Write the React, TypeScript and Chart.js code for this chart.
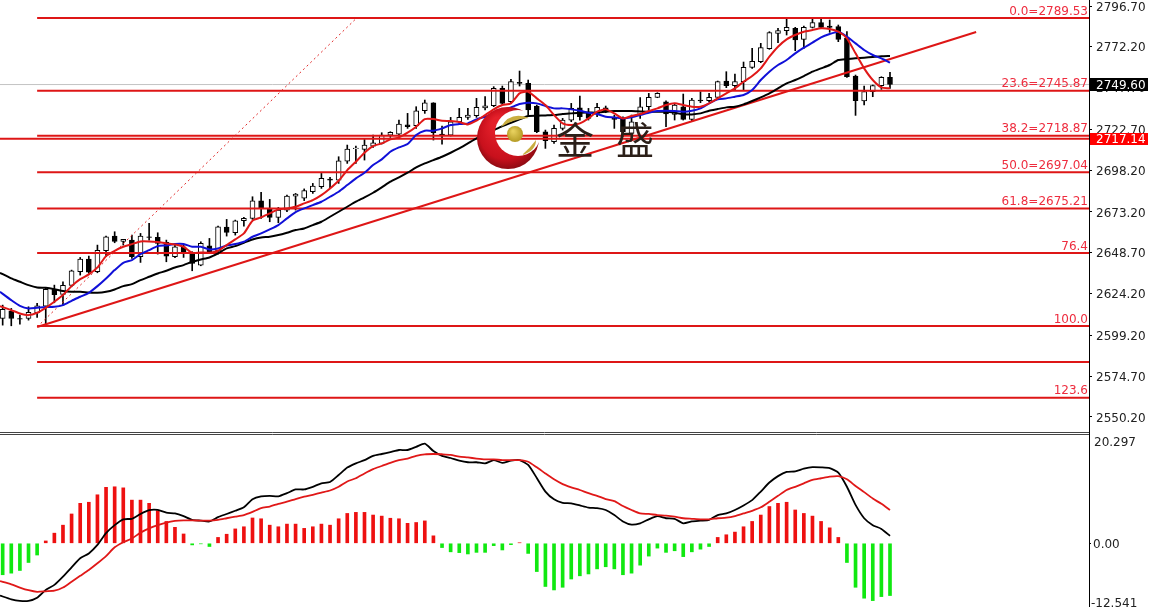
import React, { useEffect, useRef } from "react";
import { Chart, registerables } from "chart.js";

Chart.register(...registerables);

const opens = [
  2609.3, 2613.7, 2609.3, 2609.3, 2612.7, 2616.7, 2626.7, 2623.7, 2629.1, 2637.3,
  2644.9, 2637.3, 2649.9, 2658.7, 2655.5, 2656.3, 2646.3, 2658.3, 2657.9, 2654.9,
  2646.3, 2652.3, 2648.3, 2641.3, 2652.9, 2649.9, 2664.1, 2660.7, 2667.9, 2669.3,
  2679.9, 2674.9, 2669.9, 2674.3, 2682.7, 2681.5, 2685.3, 2688.3, 2692.9, 2692.3,
  2703.7, 2711.1, 2710.7, 2712.7, 2714.3, 2719.3, 2719.9, 2725.5, 2724.9, 2733.9,
  2738.7, 2719.9, 2719.3, 2727.3, 2729.9, 2730.9, 2735.5, 2736.9, 2747.3, 2739.3,
  2750.9, 2750.3, 2736.7, 2721.3, 2715.3, 2723.3, 2728.3, 2735.7, 2732.3, 2732.3,
  2735.7, 2729.5, 2728.7, 2720.3, 2731.3, 2736.3, 2741.9, 2739.3, 2731.7, 2736.3,
  2728.7, 2740.3, 2739.9, 2741.9, 2751.7, 2748.9, 2751.3, 2759.9, 2763.3, 2771.1,
  2780.3, 2781.9, 2783.3, 2776.7, 2783.9, 2786.7, 2784.7, 2784.3, 2777.3, 2754.7,
  2739.7, 2745.3, 2748.9, 2753.9,
];
const closes = [
  2614.7, 2609.3, 2608.9, 2612.9, 2616.9, 2626.7, 2623.5, 2629.1, 2637.9, 2644.9,
  2637.1, 2650.1, 2658.3, 2655.5, 2656.7, 2646.3, 2658.7, 2657.9, 2654.3, 2646.7,
  2652.3, 2648.7, 2642.3, 2654.3, 2649.3, 2664.3, 2660.9, 2667.9, 2669.3, 2679.9,
  2675.3, 2669.9, 2674.3, 2682.7, 2683.9, 2686, 2688.7, 2693.3, 2692.3, 2703.9,
  2710.9, 2711.5, 2713.3, 2714.7, 2719.3, 2720.9, 2725.9, 2724.3, 2733.9, 2738.7,
  2720.7, 2719.1, 2727.3, 2729.9, 2731.3, 2735.9, 2736.9, 2747.3, 2738.3, 2751.3,
  2750.3, 2734.3, 2721.3, 2715.9, 2723.3, 2728.3, 2735.3, 2730.3, 2729.3, 2735.9,
  2733.3, 2728.7, 2721.3, 2727.3, 2736.3, 2741.9, 2744.3, 2731.9, 2737.3, 2728.7,
  2740.3, 2739.7, 2741.9, 2751.3, 2748.9, 2751.3, 2759.9, 2763.5, 2771.7, 2780.7,
  2781.9, 2783.9, 2776.3, 2783.9, 2786.7, 2783.9, 2783.9, 2776.7, 2754.3, 2739.9,
  2745.3, 2748.9, 2753.9, 2749.6,
];
const highs = [
  2617.3, 2615.3, 2611.3, 2616.3, 2618.3, 2627.9, 2629.3, 2631.3, 2638.3, 2645.9,
  2646.7, 2653.3, 2658.7, 2661.3, 2656.7, 2659.3, 2660.3, 2666.3, 2660.7, 2656.3,
  2653.3, 2653.3, 2649.3, 2655.3, 2657.3, 2664.7, 2668.7, 2668.3, 2669.9, 2682.3,
  2684.9, 2680.7, 2675.9, 2683.3, 2684.3, 2687, 2690.3, 2696.3, 2693.9, 2706.3,
  2713.3, 2712.7, 2716.7, 2719.3, 2720.7, 2721.3, 2728.3, 2732.3, 2736.3, 2740.3,
  2738.7, 2724.7, 2729.9, 2735.3, 2735.3, 2741.3, 2742.3, 2748.3, 2748.7, 2752.7,
  2757.7, 2752.3, 2737.3, 2722.3, 2725.3, 2729.3, 2738.3, 2742.7, 2735.3, 2738.3,
  2736.7, 2731.3, 2730.3, 2731.3, 2741.7, 2744.3, 2744.7, 2739.9, 2738.3, 2743.9,
  2741.3, 2745.3, 2744.3, 2751.7, 2757.3, 2755.9, 2763.1, 2771.3, 2774.3, 2781.3,
  2783.3, 2788.7, 2783.9, 2784.7, 2788.7, 2788.7, 2788.3, 2785.3, 2781.3, 2755.3,
  2748.7, 2749.3, 2754.3, 2756.9,
];
const lows = [
  2605.3, 2604.9, 2605.9, 2608.3, 2609.9, 2604.9, 2618.7, 2617.3, 2628.3, 2635.3,
  2636.3, 2636.7, 2646.3, 2654.7, 2653.3, 2645.3, 2642.9, 2656.3, 2647.9, 2643.3,
  2645.7, 2645.9, 2637.9, 2640.9, 2648.3, 2647.9, 2658.7, 2659.3, 2664.7, 2668.7,
  2669.3, 2667.3, 2666.7, 2673.3, 2674.3, 2680, 2684.3, 2687.3, 2687.3, 2690.3,
  2702.3, 2702.3, 2704.3, 2711.9, 2713.9, 2717.9, 2718.7, 2723.3, 2723.3, 2732.3,
  2716.3, 2713.9, 2718.7, 2726.3, 2728.7, 2729.9, 2734.3, 2736.3, 2737.3, 2738.3,
  2748.7, 2731.3, 2720.7, 2711.3, 2714.3, 2722.3, 2727.3, 2728.3, 2728.3, 2730.3,
  2732.7, 2723.3, 2718.3, 2719.3, 2729.3, 2733.9, 2741.7, 2724.3, 2728.3, 2728.3,
  2727.3, 2738.7, 2739.3, 2741.3, 2747.7, 2746.3, 2746.3, 2759.3, 2762.7, 2770.7,
  2774.7, 2779.3, 2769.9, 2771.3, 2783.5, 2783.3, 2780.9, 2775.3, 2753.9, 2731.1,
  2737.3, 2742.3, 2746.7, 2747.3,
];

const maFast = [
  2616.7, 2614.3, 2612.3, 2611.3, 2612.7, 2615.7, 2619.3, 2623.3, 2628.7, 2632.9,
  2635.7, 2639.9, 2646.7, 2649.9, 2652.3, 2653.9, 2655.5, 2655.5, 2655.1, 2654.3,
  2653.7, 2652.3, 2648.7, 2648.9, 2648.7, 2649.9, 2653.3, 2656.7, 2660.3, 2667.9,
  2669.9, 2672.3, 2674.7, 2675.3, 2676.3, 2678.3, 2680.3, 2683.3, 2687.3, 2691.9,
  2698.3, 2703.3, 2708.7, 2712.7, 2714.3, 2716.7, 2717.9, 2720.7, 2724.3, 2728.9,
  2728.9, 2727.9, 2727.7, 2727.1, 2725.7, 2727.9, 2731.3, 2734.7, 2737.3, 2738.3,
  2744.3, 2745.3, 2741.3, 2737.3, 2731.3, 2726.3, 2725.3, 2726.3, 2729.3, 2733.3,
  2734.7, 2732.3, 2729.3, 2730.7, 2731.9, 2733.7, 2735.3, 2737.3, 2738.3, 2737.3,
  2736.3, 2736.3, 2738.3, 2741.3, 2744.3, 2747.3, 2751.3, 2754.7, 2759.3, 2766.3,
  2772.3, 2776.7, 2779.3, 2781.3, 2782.3, 2783.3, 2782.9, 2781.3, 2777.3, 2768.3,
  2759.3, 2752.3, 2747.9, 2747.3,
];
const maMid = [
  2625.3, 2620.3, 2616.9, 2615.3, 2615.7, 2616.1, 2616.3, 2617.3, 2619.9, 2622.3,
  2624.7, 2628.7, 2633.3, 2638.3, 2642.7, 2644.3, 2647.9, 2650.3, 2652.7, 2653.1,
  2653.9, 2653.9, 2652.3, 2652.3, 2650.7, 2651.3, 2653.1, 2653.9, 2655.3, 2658.3,
  2660.3, 2662.7, 2665.3, 2669.3, 2673.1, 2675.3, 2677.3, 2679.3, 2682.3, 2685.3,
  2689.3, 2693.3, 2696.7, 2701.3, 2704.7, 2709.3, 2711.9, 2713.9, 2719.3, 2721.9,
  2721.9, 2723.3, 2725.3, 2725.9, 2726.3, 2728.7, 2730.3, 2732.3, 2734.3, 2735.9,
  2737.9, 2738.7, 2738.3, 2736.7, 2735.3, 2735.3, 2734.7, 2733.9, 2732.7, 2731.9,
  2730.3, 2729.9, 2729.3, 2729.9, 2731.3, 2732.7, 2733.7, 2733.9, 2733.7, 2733.3,
  2733.9, 2735.3, 2738.3, 2740.7, 2741.3, 2742.3, 2743.3, 2746.3, 2752.3, 2757.3,
  2761.3, 2764.3, 2768.3, 2771.7, 2774.7, 2777.9, 2779.9, 2781.3, 2778.3, 2774.3,
  2770.3, 2767.3, 2765.3, 2762.7,
];
const maSlow = [
  2636.7, 2633.3, 2631.3, 2629.3, 2627.9, 2627.7, 2626.9, 2625.7, 2625.3, 2625.3,
  2624.9, 2624.7, 2625.3, 2626.7, 2628.7, 2629.9, 2632.3, 2634.3, 2636.3, 2637.9,
  2639.9, 2641.3, 2643.3, 2644.7, 2645.9, 2648.3, 2651.3, 2652.7, 2654.7, 2656.7,
  2657.9, 2658.3, 2659.3, 2660.7, 2662.3, 2663.3, 2665.3, 2667.3, 2670.3, 2673.3,
  2676.3, 2679.3, 2681.9, 2684.7, 2687.9, 2691.3, 2693.9, 2696.7, 2699.9, 2702.3,
  2704.3, 2706.3, 2708.7, 2711.3, 2714.3, 2717.3, 2719.9, 2722.3, 2724.7, 2726.7,
  2728.7, 2730.7, 2730.9, 2731.1, 2731.3, 2731.9, 2732.3, 2732.7, 2732.9, 2732.7,
  2733.3, 2733.7, 2733.7, 2733.7, 2733.5, 2733.3, 2733.3, 2733.3, 2732.7, 2731.7,
  2731.7, 2732.3, 2733.9, 2734.9, 2735.9, 2736.3, 2737.7, 2739.7, 2741.9, 2744.3,
  2747.3, 2750.3, 2752.3, 2754.7, 2757.3, 2759.3, 2761.3, 2764.3, 2764.9, 2765.3,
  2765.7, 2766.1, 2766.5, 2766.7,
];

const macdHist = [
  -5.9, -5.6, -5.1, -3.6, -2.2, 0.44, 1.9, 3.4, 5.5, 7.5,
  7.7, 9.1, 10.5, 10.6, 10.4, 8.1, 8.1, 7.5, 6.1, 4.1,
  3.0, 1.75, -0.3, -0.1, -0.6, 1.1, 1.7, 2.7, 3.1, 4.75,
  4.6, 3.4, 3.1, 3.6, 3.6, 2.8, 3.1, 3.6, 3.4, 4.6,
  5.6, 5.8, 5.8, 5.3, 5.1, 4.7, 4.6, 3.75, 3.9, 4.2,
  1.4, -0.8, -1.6, -1.75, -2.0, -1.7, -1.7, -0.44, -1.25, -0.25,
  0.1, -1.9, -5.3, -8.1, -8.75, -8.25, -6.7, -6.1, -5.75, -4.8,
  -4.4, -4.8, -5.9, -5.6, -4.1, -2.4, -0.9, -1.7, -1.4, -2.5,
  -1.6, -1.1, -0.6, 1.1, 1.6, 2.1, 3.1, 4.1, 5.3, 6.9,
  7.5, 7.7, 6.25, 5.6, 5.1, 4.1, 2.9, 1.1, -3.6, -8.25,
  -10.3, -10.75, -10, -9.8,
];
const macdLine = [
  -9.8, -10.5, -10.8, -10.8, -10.2, -8.75, -7.8, -6.25, -4.5, -2.8,
  -1.9, -0.3, 1.9, 3.4, 4.5, 4.6, 5.5, 6.2, 6.25, 5.75,
  5.6, 5.1, 4.4, 4.25, 4.1, 4.9, 5.5, 6.1, 6.75, 8.25,
  8.8, 8.9, 8.8, 9.4, 10.1, 10.1, 10.6, 11.25, 11.5, 12.8,
  14.2, 15, 15.6, 16.4, 16.75, 17.1, 17.5, 17.5, 18.1, 18.7,
  17.3, 16.4, 16, 15.5, 15.2, 15.2, 15, 15.6, 15.1, 15.5,
  15.6, 14.7, 12.25, 9.7, 8.25, 7.6, 7.5, 7.1, 6.7, 6.6,
  6.25, 5.3, 4.1, 3.5, 3.75, 4.5, 5.1, 4.7, 4.6, 3.75,
  4.1, 4.25, 4.4, 5.3, 5.6, 6.25, 7.1, 8.1, 9.7, 11.4,
  12.6, 13.4, 13.5, 14, 14.3, 14.25, 14.1, 13.25, 10.6, 7.2,
  4.7, 3.4, 2.7, 1.4,
];
const macdSignal = [
  -7.1, -7.7, -8.3, -8.8, -9.1, -9, -8.9, -8.3, -7.2, -6.1,
  -5, -3.75, -2.4, -0.75, 0.2, 0.9, 2, 2.8, 3.4, 3.9,
  4.2, 4.3, 4.3, 4.25, 4.25, 4.4, 4.7, 5, 5.3, 5.9,
  6.6, 6.9, 7.4, 7.8, 8.3, 8.75, 9.1, 9.5, 9.9, 10.6,
  11.6, 12.2, 13.1, 13.9, 14.5, 15.1, 15.6, 15.9, 16.4, 16.7,
  16.75, 16.7, 16.6, 16.25, 16.1, 15.9, 15.75, 15.75, 15.6, 15.6,
  15.6, 15.3, 14.25, 13.1, 12, 11.1, 10.5, 10, 9.4, 8.9,
  8.3, 7.9, 7, 6.25, 5.6, 5.5, 5.3, 5.2, 5, 4.7,
  4.6, 4.5, 4.5, 4.7, 4.8, 5.1, 5.6, 6.1, 6.75, 7.8,
  8.9, 10, 10.6, 11.25, 11.9, 12.2, 12.5, 12.6, 12, 10.75,
  9.6, 8.4, 7.4, 6.25,
];

const priceTicks = [2796.7, 2772.2, 2747.7, 2722.7, 2698.2, 2673.2, 2648.7, 2624.2, 2599.2, 2574.7, 2550.2];
const macdScaleLabels = ["20.297", "-12.541"];
const fibLevels = [2789.53, 2745.87, 2718.87, 2697.04, 2675.21, 2648.6, 2604.8, 2583.2, 2561.8];
const fibLabels = ["0.0=2789.53", "23.6=2745.87", "38.2=2718.87", "50.0=2697.04", "61.8=2675.21", "76.4", "100.0", "", "123.6"];
const trendStart = { x: 4, y: 2604.2 };
const trendEnd = { x: 113, y: 2781.1 };
const fanEnd = { x: 41.1, y: 2789.53 };
const bidPrice = 2749.6;
const otherPrice = 2717.14;
const logoText = ["金", "盛"];

const X_MIN = -0.31;
const X_MAX = 126.1;
const LINE_RED = "rgb(222,22,22)";
const FONT = '"DejaVu Sans"';
const AXIS_X = 1089;
const MAIN_BOTTOM = 433;
const HEIGHT = 607;

const series = (values: number[]) => values.map((y, x) => ({ x, y }));
const lineSeries = (values: number[]) => values.map((y, x) => ({ x: x === 0 ? X_MIN : x, y }));

const panes = {
  id: "panes",
  afterLayout(chart: any) {
    const place = (s: any, left: number, right: number, top: number, bottom: number) => {
      s.left = left;
      s.right = right;
      s.top = top;
      s.bottom = bottom;
      s.width = right - left;
      s.height = bottom - top;
      s.configure();
    };
    chart.chartArea = { left: 0, top: 0, right: AXIS_X, bottom: HEIGHT, width: AXIS_X, height: HEIGHT };
    place(chart.scales.x, 0, AXIS_X, HEIGHT, HEIGHT);
    place(chart.scales.y, AXIS_X, 1150, 0, MAIN_BOTTOM);
    place(chart.scales.y2, AXIS_X, 1150, MAIN_BOTTOM, HEIGHT);
    [chart.scales.y, chart.scales.y2].forEach((s: any) => {
      if (s.__labelShift) return;
      s.__labelShift = true;
      const compute = s._computeLabelItems.bind(s);
      s._computeLabelItems = (area: any) =>
        compute(area).map((item: any) => ({ ...item, textOffset: item.textOffset + 1.5 }));
    });
  },
};

const overlay = {
  id: "overlay",
  afterDatasetsDraw(chart: any) {
    const { ctx, scales } = chart;
    const y = scales.y;
    ctx.save();

    // watermark logo
    const off = document.createElement("canvas");
    off.width = 90;
    off.height = 90;
    const o = off.getContext("2d")!;
    const g = o.createRadialGradient(30, 25, 6, 40, 40, 34);
    g.addColorStop(0, "#e4202a");
    g.addColorStop(0.7, "#c8101c");
    g.addColorStop(1, "#7e0a10");
    o.fillStyle = g;
    o.beginPath();
    o.arc(40, 40, 31, 0, Math.PI * 2);
    o.fill();
    o.globalCompositeOperation = "destination-out";
    o.beginPath();
    o.arc(50, 35, 23, 0, Math.PI * 2);
    o.fill();
    o.globalCompositeOperation = "source-over";
    ctx.drawImage(off, 468, 98);
    const gold = ctx.createRadialGradient(513, 131, 1, 515, 134, 9);
    gold.addColorStop(0, "#e6cf5c");
    gold.addColorStop(1, "#b0961f");
    ctx.fillStyle = gold;
    ctx.beginPath();
    ctx.arc(515, 134, 8, 0, Math.PI * 2);
    ctx.fill();
    ctx.fillStyle = "#c9ad3f";
    ctx.beginPath();
    ctx.moveTo(501, 127);
    ctx.quadraticCurveTo(510, 111, 529, 118);
    ctx.quadraticCurveTo(513, 119, 501, 127);
    ctx.fill();
    ctx.beginPath();
    ctx.moveTo(536, 140);
    ctx.quadraticCurveTo(536, 151, 522, 155);
    ctx.quadraticCurveTo(530, 148, 536, 140);
    ctx.fill();
    ctx.fillStyle = "#2b1f18";
    ctx.textAlign = "center";
    ctx.textBaseline = "middle";
    ctx.font = '38px "Noto Sans CJK SC"';
    ctx.fillText(logoText[0], 575, 140);
    ctx.fillText(logoText[1], 635, 140);

    // panel separator
    ctx.strokeStyle = "#444";
    ctx.lineWidth = 1;
    ctx.beginPath();
    ctx.moveTo(0, 432.5);
    ctx.lineTo(AXIS_X, 432.5);
    ctx.moveTo(0, 434.5);
    ctx.lineTo(AXIS_X, 434.5);
    ctx.stroke();

    // fib labels
    ctx.font = `12px ${FONT}`;
    ctx.fillStyle = "#ee2c3e";
    ctx.textAlign = "right";
    ctx.textBaseline = "bottom";
    fibLevels.forEach((v, i) => {
      if (fibLabels[i]) ctx.fillText(fibLabels[i], 1088, y.getPixelForValue(v) - 0.5);
    });

    // current price tags
    ctx.font = `12px ${FONT}`;
    ctx.textAlign = "left";
    ctx.textBaseline = "middle";
    const tag = (v: number, bg: string, h: number) => {
      const py = y.getPixelForValue(v);
      ctx.fillStyle = bg;
      ctx.fillRect(1090, Math.round(py - h / 2), 58, h);
      ctx.fillStyle = "#fff";
      ctx.fillText(v.toFixed(2), 1096, py + 1);
    };
    tag(bidPrice, "#000", 13);
    tag(otherPrice, "#ff0000", 12);

    // extreme labels of the lower panel
    ctx.fillStyle = "#222";
    ctx.fillText(macdScaleLabels[0], 1094, 443);
    ctx.fillText(macdScaleLabels[1], 1091, 604);
    ctx.restore();
  },
};

export default function App() {
  const ref = useRef<HTMLCanvasElement>(null);
  useEffect(() => {
    document.body.style.margin = "0";
    const line = (data: any[], color: string, width: number, order: number, extra: any = {}) => ({
      type: "line",
      data,
      borderColor: color,
      borderWidth: width,
      pointRadius: 0,
      tension: 0,
      order,
      yAxisID: "y",
      ...extra,
    });
    const chart = new Chart(ref.current!, {
      type: "bar",
      data: {
        datasets: [
          line([{ x: X_MIN, y: bidPrice }, { x: X_MAX, y: bidPrice }], "#c4c4c4", 1, 30),
          ...fibLevels.map((v, i) =>
            line([{ x: trendStart.x, y: v }, { x: X_MAX, y: v }], LINE_RED, 2, 5 + i * 0.01)
          ),
          line([{ x: X_MIN, y: otherPrice }, { x: X_MAX, y: otherPrice }], LINE_RED, 2, 5),
          line([trendStart, trendEnd], LINE_RED, 2, 4),
          line([trendStart, fanEnd], "#e02828", 1, 4, { borderDash: [2, 3] }),
          {
            type: "bar",
            data: series(closes).map((p, i) => ({ x: p.x, y: [lows[i], highs[i]] })),
            backgroundColor: "#000",
            barThickness: 1,
            grouped: false,
            order: 20,
            yAxisID: "y",
          },
          {
            type: "bar",
            data: series(closes).map((p, i) => ({ x: p.x, y: [opens[i], closes[i]] })),
            backgroundColor: closes.map((c, i) => (c >= opens[i] ? "#fff" : "#000")),
            borderColor: "#000",
            borderWidth: 1,
            borderSkipped: false,
            barThickness: 5,
            grouped: false,
            order: 19,
            yAxisID: "y",
          },
          line(lineSeries(maSlow), "#000", 2, 3, { tension: 0.2 }),
          line(lineSeries(maMid), "#1010d8", 2, 2, { tension: 0.2 }),
          line(lineSeries(maFast), "#e01818", 2, 1, { tension: 0.2 }),
          {
            type: "bar",
            data: series(macdHist),
            backgroundColor: macdHist.map((v) => (v >= 0 ? "#ee1010" : "#10e810")),
            barThickness: 3,
            grouped: false,
            order: 3,
            yAxisID: "y2",
          },
          line(lineSeries(macdLine), "#000", 1.8, 2, { yAxisID: "y2", tension: 0.2 }),
          line(lineSeries(macdSignal), "#e01818", 1.8, 1, { yAxisID: "y2", tension: 0.2 }),
        ] as any,
      },
      options: {
        responsive: false,
        animation: false,
        devicePixelRatio: 1,
        layout: { padding: 0 },
        plugins: { legend: { display: false }, tooltip: { enabled: false } },
        scales: {
          x: { type: "linear", min: X_MIN, max: X_MAX, display: false, offset: false },
          y: {
            position: "right",
            stack: "panes",
            stackWeight: 433,
            min: 2540.6,
            max: 2800.3,
            grid: { drawOnChartArea: false, drawTicks: true, tickLength: 3, tickColor: "#000" },
            border: { color: "#000" },
            afterBuildTicks: (s: any) => {
              s.ticks = priceTicks.map((value) => ({ value }));
            },
            ticks: {
              autoSkip: false,
              padding: 4,
              maxRotation: 0,
              color: "#222",
              font: { family: FONT, size: 12 },
              callback: (v: any) => Number(v).toFixed(2),
            },
          },
          y2: {
            position: "right",
            stack: "panes",
            stackWeight: 174,
            min: -11.95,
            max: 20.69,
            grid: { drawOnChartArea: false, drawTicks: true, tickLength: 2, tickColor: "#000" },
            border: { color: "#000" },
            afterBuildTicks: (s: any) => {
              s.ticks = [{ value: 0 }];
            },
            ticks: {
              autoSkip: false,
              padding: 2,
              maxRotation: 0,
              color: "#222",
              font: { family: FONT, size: 12 },
              callback: (v: any) => Number(v).toFixed(2),
            },
          },
        },
      } as any,
      plugins: [panes, overlay],
    } as any);
    return () => chart.destroy();
  }, []);
  return <canvas ref={ref} width={1150} height={607} style={{ display: "block" }} />;
}
